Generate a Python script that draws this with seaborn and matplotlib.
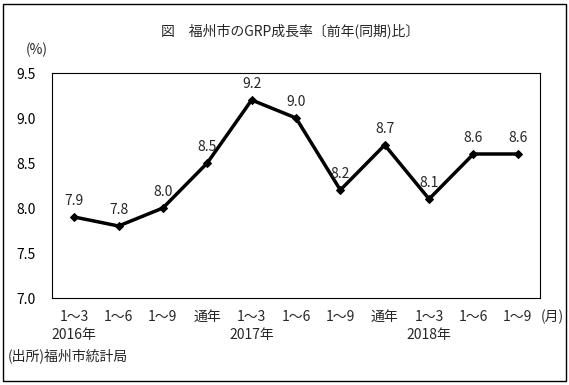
import matplotlib
matplotlib.use("Agg")
import matplotlib.pyplot as plt
import seaborn as sns
import pandas as pd
from matplotlib.patches import Rectangle

# Data
periods = ["1～3", "1～6", "1～9", "通年", "1～3", "1～6", "1～9", "通年", "1～3", "1～6", "1～9"]
growth = [7.9, 7.8, 8.0, 8.5, 9.2, 9.0, 8.2, 8.7, 8.1, 8.6, 8.6]
years = ["2016年", "2017年", "2018年"]
year_pos = [0, 4, 8]

df = pd.DataFrame({"idx": range(len(growth)), "growth": growth})

sns.set_style("white")
plt.rcParams["font.family"] = ["Noto Sans CJK JP", "DejaVu Sans"]

fig = plt.figure(figsize=(5.69, 3.85), dpi=100)
ax = fig.add_axes([52 / 569, 1 - 298 / 385, 488 / 569, 225 / 385])

sns.lineplot(data=df, x="idx", y="growth", ax=ax, color="black", linewidth=2.5,
             marker="D", markersize=4.5, markeredgecolor="black")

for i, v in enumerate(growth):
    ax.text(i, v + 0.1, f"{v:.1f}", ha="center", va="bottom", fontsize=10)

ax.set_xlim(-0.5, len(growth) - 0.5)
ax.set_ylim(7.0, 9.5)
ticks = [7.0, 7.5, 8.0, 8.5, 9.0, 9.5]
ax.set_yticks(ticks)
ax.set_yticklabels([f"{t:.1f}" for t in ticks], fontsize=10)
ax.set_xticks([i + 0.5 for i in range(len(growth) - 1)])
ax.set_xticklabels([])
ax.tick_params(axis="both", direction="in", length=4, width=0.8, colors="black")
ax.tick_params(axis="y", pad=12)
ax.set_xlabel("")
ax.set_ylabel("")
for s in ax.spines.values():
    s.set_color("black")
    s.set_linewidth(0.8)

# category labels under axis
xt = ax.get_xaxis_transform()
for i, p in enumerate(periods):
    ax.text(i, -0.085, p, transform=xt, ha="center", va="center", fontsize=10)
ax.text(len(growth) - 0.5 + 0.02, -0.085, "(月)", transform=xt, ha="left", va="center", fontsize=10)
for y, p in zip(years, year_pos):
    ax.text(p, -0.165, y, transform=xt, ha="center", va="center", fontsize=10)

fig.text(290 / 569, 1 - 31 / 385, "図　福州市のGRP成長率〔前年(同期)比〕", ha="center", va="center", fontsize=10)
fig.text(37 / 569, 1 - 50 / 385, "(%)", ha="center", va="center", fontsize=10)
fig.text(8 / 569, 1 - 356 / 385, "(出所)福州市統計局", ha="left", va="center", fontsize=10)

fig.add_artist(Rectangle((3 / 569, 4 / 385), 563 / 569, 377 / 385, transform=fig.transFigure,
                         fill=False, edgecolor="black", linewidth=1))

fig.savefig("out.png", dpi=100)
